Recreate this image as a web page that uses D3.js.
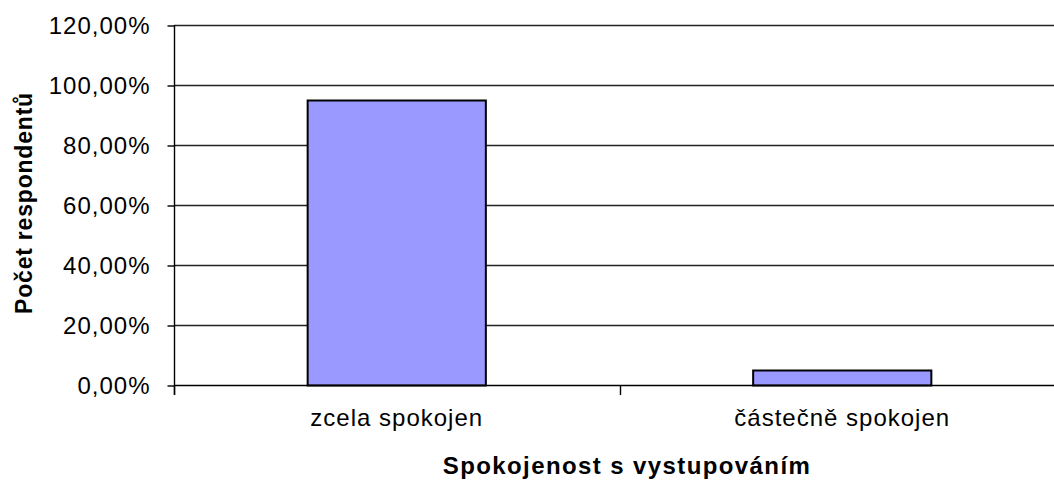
<!DOCTYPE html>
<html lang="cs">
<head>
  <meta charset="UTF-8">
  <title>Spokojenost s vystupováním</title>
  <script src="https://d3js.org/d3.v7.min.js"></script>
  <style>
    html, body {
      margin: 0;
      padding: 0;
      background: #fff;
    }
    svg {
      display: block;
      font-family: "Liberation Sans", Arial, sans-serif;
    }
  </style>
</head>
<body>
  <div id="chart"></div>
  <script>
    // chart data
    var categories = ["zcela spokojen", "částečně spokojen"];
    var values = [0.95, 0.05];
    var yTicks = [0, 0.2, 0.4, 0.6, 0.8, 1.0, 1.2];
    var xTitle = "Spokojenost s vystupováním";
    var yTitle = "Počet respondentů";

    var width = 1054, height = 481;

    var svg = d3.select("#chart").append("svg")
      .attr("width", width)
      .attr("height", height);

    // Czech number format: comma as decimal separator
    var cz = d3.formatLocale({decimal: ",", thousands: " ", grouping: [3], currency: ["", " Kč"]});
    var pct = cz.format(".2%");

    var x = d3.scaleBand()
      .domain(categories)
      .range([174, 1065])
      .paddingInner(0.6)
      .paddingOuter(0.3);

    var y = d3.scaleLinear()
      .domain([0, 1.2])
      .range([385.5, 25.5]);

    // gridlines
    svg.append("g")
      .selectAll("line")
      .data(yTicks.filter(d => d > 0))
      .join("line")
      .attr("x1", 174)
      .attr("x2", width)
      .attr("y1", d => y(d))
      .attr("y2", d => y(d))
      .attr("stroke", "#222")
      .attr("stroke-width", 1.4);

    // bars
    svg.append("g")
      .selectAll("rect")
      .data(values)
      .join("rect")
      .attr("x", (d, i) => x(categories[i]))
      .attr("width", x.bandwidth())
      .attr("y", d => y(d))
      .attr("height", d => y(0) - y(d))
      .attr("fill", "#9999ff")
      .attr("stroke", "#000")
      .attr("stroke-width", 2);

    // y axis
    var yAxis = svg.append("g")
      .attr("transform", "translate(174.5,0)")
      .call(d3.axisLeft(y).tickValues(yTicks).tickFormat(pct)
        .tickSizeInner(7).tickSizeOuter(0).tickPadding(17));
    yAxis.select(".domain").remove();
    yAxis.append("line")
      .attr("y1", y(1.2)).attr("y2", 395)
      .attr("stroke", "#000").attr("stroke-width", 1.4);
    yAxis.selectAll(".tick line").attr("stroke", "#000").attr("stroke-width", 1.4);
    yAxis.selectAll(".tick text")
      .attr("font-size", 24)
      .attr("letter-spacing", 1)
      .attr("fill", "#000")
      .attr("font-family", "Liberation Sans, Arial, sans-serif");

    // x axis
    var xAxis = svg.append("g")
      .attr("transform", "translate(0," + y(0) + ")");
    xAxis.append("line")
      .attr("x1", 174).attr("x2", width)
      .attr("stroke", "#000").attr("stroke-width", 1.4);
    // boundary ticks between categories
    var step = x.step();
    var bounds = [174, 174 + step, 174 + 2 * step];
    xAxis.selectAll(".bt")
      .data(bounds)
      .join("line")
      .attr("x1", d => Math.round(d) + 0.5)
      .attr("x2", d => Math.round(d) + 0.5)
      .attr("y1", 0).attr("y2", 9.5)
      .attr("stroke", "#000").attr("stroke-width", 1.4);

    svg.append("g")
      .selectAll("text")
      .data(categories)
      .join("text")
      .attr("x", d => x(d) + x.bandwidth() / 2)
      .attr("y", 426)
      .attr("text-anchor", "middle")
      .attr("font-size", 24)
      .attr("letter-spacing", 1)
      .attr("fill", "#000")
      .text(d => d);

    // axis titles
    svg.append("text")
      .attr("x", 627)
      .attr("y", 474)
      .attr("text-anchor", "middle")
      .attr("font-size", 24)
      .attr("font-weight", "bold")
      .attr("letter-spacing", 1.4)
      .attr("fill", "#000")
      .text(xTitle);

    svg.append("text")
      .attr("transform", "translate(32,203) rotate(-90)")
      .attr("text-anchor", "middle")
      .attr("font-size", 23)
      .attr("font-weight", "bold")
      .attr("letter-spacing", 0.8)
      .attr("fill", "#000")
      .text(yTitle);
  </script>
</body>
</html>
